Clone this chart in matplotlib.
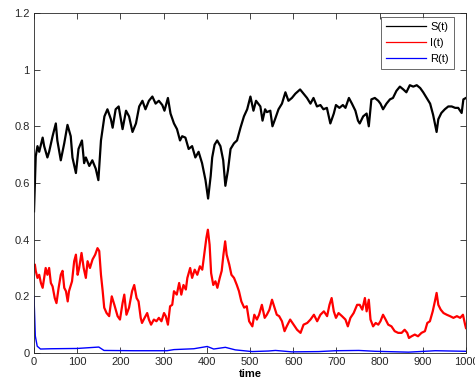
import matplotlib
matplotlib.use('Agg')
import matplotlib.pyplot as plt
from matplotlib.lines import Line2D

plt.rcParams['font.family'] = ['Liberation Sans', 'DejaVu Sans']

# S(t)
s_t = [0, 4, 8, 12, 20, 23.5, 31, 35, 43, 50.5, 54, 62, 70, 77.5, 85, 89, 97, 103, 111, 116,
       120, 128, 135, 143, 149, 155, 163, 170, 178, 182, 189, 196, 201, 205, 213, 220, 228, 236,
       243.5, 251, 258, 266, 274, 281.5, 289, 297, 302, 310, 316, 324, 331, 338, 343, 350.5,
       358, 366, 373.5, 381, 389, 397, 403, 409, 412.5, 418, 424, 431.5, 438, 443, 449, 455,
       463, 470, 478, 486, 493.5, 501, 508, 514, 524, 529, 535, 539, 547, 552, 558, 566, 574,
       582, 589, 597, 605, 616, 624, 632, 640, 647, 655, 663, 670, 678, 686, 694, 699, 707,
       715, 721, 729, 736, 744, 750, 754, 762, 770, 775, 781, 789, 797, 802, 808, 816, 824,
       831, 839, 847, 855, 862, 870, 878, 886, 894, 901, 909, 917, 924, 932, 936, 943, 951,
       959, 967, 975, 982, 990, 994, 1000]
s_v = [0.50, 0.694, 0.73, 0.71, 0.76, 0.73, 0.69, 0.71, 0.765, 0.81, 0.75, 0.68, 0.74, 0.805,
       0.765, 0.69, 0.635, 0.72, 0.75, 0.67, 0.69, 0.66, 0.68, 0.65, 0.61, 0.75, 0.835, 0.86,
       0.825, 0.795, 0.86, 0.87, 0.825, 0.79, 0.855, 0.835, 0.78, 0.81, 0.87, 0.89, 0.86, 0.89,
       0.905, 0.88, 0.89, 0.875, 0.855, 0.90, 0.845, 0.81, 0.79, 0.75, 0.765, 0.76, 0.72, 0.73,
       0.69, 0.71, 0.67, 0.61, 0.545, 0.625, 0.69, 0.735, 0.75, 0.73, 0.68, 0.59, 0.645, 0.72,
       0.74, 0.75, 0.795, 0.835, 0.86, 0.905, 0.855, 0.89, 0.87, 0.82, 0.86, 0.85, 0.855, 0.80,
       0.825, 0.86, 0.88, 0.92, 0.89, 0.90, 0.915, 0.93, 0.915, 0.90, 0.88, 0.90, 0.87, 0.875,
       0.86, 0.865, 0.81, 0.845, 0.875, 0.865, 0.875, 0.865, 0.90, 0.88, 0.855, 0.82, 0.81,
       0.835, 0.845, 0.80, 0.895, 0.90, 0.89, 0.88, 0.86, 0.88, 0.895, 0.90, 0.925, 0.94, 0.93,
       0.92, 0.945, 0.94, 0.945, 0.935, 0.92, 0.90, 0.88, 0.84, 0.78, 0.825, 0.847, 0.86, 0.87,
       0.87, 0.865, 0.865, 0.847, 0.895, 0.90]

# I(t)
i_t = [0, 2, 4, 8, 12, 16, 20, 23.5, 27, 31, 35, 39, 43, 48, 52, 57, 62, 66, 70, 74, 78, 81,
       88, 93, 97, 101, 104.5, 110, 115, 120, 124, 129.5, 135.5, 141.6, 147, 151, 155, 159,
       162.5, 168, 174, 180, 186, 193.5, 199, 205, 209, 214, 220, 227, 232, 237.5, 242, 247,
       250, 256, 262, 266, 271, 277.5, 283.5, 289, 295, 301, 305, 310, 315, 320, 324, 330.5,
       336, 341, 346, 351.5, 355, 361.5, 366, 372, 378, 384, 389.5, 393.5, 399, 402.5, 406.5,
       410, 415, 420, 424.5, 430, 434.5, 438.5, 442.5, 446, 452, 457, 463, 469.5, 474.5, 480,
       486.5, 492.5, 498, 505.5, 510, 516, 521, 527.5, 534, 539, 545, 551, 557, 562, 567.5,
       574, 580, 585, 593, 601, 609, 617, 624, 632.5, 640, 648, 655.5, 663, 671, 678.5, 684,
       689, 694, 699, 705, 713, 721, 726.5, 732.5, 740, 748, 754, 760, 766, 770, 775, 779, 785,
       791, 797, 802, 808, 814, 820, 827.5, 835, 843, 851, 858, 864, 868, 874, 881.5, 889, 897,
       905, 910.5, 916.5, 923, 928, 932, 936, 941.5, 948, 955.5, 963, 971, 979, 986.5, 993,
       998, 1000]
i_v = [0.31, 0.312, 0.29, 0.265, 0.276, 0.247, 0.23, 0.265, 0.30, 0.276, 0.30, 0.247, 0.235,
       0.194, 0.176, 0.23, 0.276, 0.29, 0.23, 0.218, 0.182, 0.218, 0.253, 0.324, 0.347, 0.276,
       0.30, 0.353, 0.30, 0.265, 0.324, 0.30, 0.33, 0.347, 0.37, 0.36, 0.276, 0.218, 0.16,
       0.141, 0.13, 0.20, 0.17, 0.13, 0.118, 0.176, 0.206, 0.135, 0.16, 0.218, 0.24, 0.194,
       0.182, 0.124, 0.106, 0.124, 0.141, 0.118, 0.10, 0.118, 0.112, 0.124, 0.112, 0.141, 0.13,
       0.10, 0.165, 0.17, 0.218, 0.206, 0.247, 0.206, 0.24, 0.224, 0.265, 0.30, 0.265, 0.294,
       0.276, 0.306, 0.294, 0.341, 0.406, 0.435, 0.382, 0.282, 0.24, 0.253, 0.23, 0.265, 0.29,
       0.347, 0.394, 0.347, 0.312, 0.276, 0.265, 0.24, 0.218, 0.182, 0.16, 0.165, 0.112, 0.094,
       0.135, 0.118, 0.135, 0.17, 0.124, 0.135, 0.153, 0.188, 0.159, 0.135, 0.13, 0.112, 0.077,
       0.094, 0.118, 0.10, 0.082, 0.071, 0.10, 0.106, 0.118, 0.135, 0.112, 0.135, 0.147, 0.13,
       0.17, 0.194, 0.147, 0.124, 0.141, 0.13, 0.118, 0.094, 0.124, 0.141, 0.17, 0.17, 0.153,
       0.194, 0.147, 0.188, 0.118, 0.094, 0.106, 0.10, 0.112, 0.135, 0.118, 0.10, 0.094, 0.077,
       0.071, 0.071, 0.082, 0.071, 0.053, 0.059, 0.065, 0.059, 0.071, 0.077, 0.106, 0.112,
       0.147, 0.182, 0.212, 0.17, 0.153, 0.141, 0.135, 0.13, 0.124, 0.13, 0.124, 0.135, 0.10,
       0.088]

# R(t)
r_t = [0, 3, 7.4, 15, 40, 100, 150, 162, 230, 308, 324, 370, 401, 416, 443, 466, 505, 543,
       559, 597, 659, 698, 752, 790, 867, 929, 1000]
r_v = [0.20, 0.06, 0.024, 0.014, 0.015, 0.016, 0.021, 0.009, 0.008, 0.008, 0.012, 0.015,
       0.023, 0.014, 0.02, 0.011, 0.005, 0.007, 0.009, 0.004, 0.005, 0.008, 0.009, 0.006,
       0.003, 0.008, 0.006]

fig = plt.figure(figsize=(4.75, 3.92), dpi=100)
ax = fig.add_axes([0.0716, 0.0995, 0.9094, 0.8675])

ax.plot(s_t, s_v, color='black', lw=1.6)
ax.plot(i_t, i_v, color='red', lw=1.6)
ax.plot(r_t, r_v, color='blue', lw=1.0)

ax.set_xlim(0, 1000)
ax.set_ylim(0, 1.2)
ax.set_xticks(range(0, 1001, 100))
ax.set_yticks([0, 0.2, 0.4, 0.6, 0.8, 1.0, 1.2])
ax.set_yticklabels(['0', '0.2', '0.4', '0.6', '0.8', '1', '1.2'])
ax.tick_params(direction='in', top=True, right=True, labelsize=8, colors='#262626',
               length=4, width=0.6, pad=3)
for sp in ax.spines.values():
    sp.set_color('#262626')
    sp.set_linewidth(0.6)
ax.set_xlabel('time', fontsize=8, fontweight='bold', labelpad=1)

handles = [Line2D([], [], color='black', lw=0.9),
           Line2D([], [], color='red', lw=0.9),
           Line2D([], [], color='blue', lw=0.9)]
leg = ax.legend(handles, ['S(t)', 'I(t)', 'R(t)'], loc='upper right',
                bbox_to_anchor=(0.972, 0.989), borderaxespad=0, fontsize=8,
                fancybox=False, edgecolor='#262626', handlelength=3.6, handletextpad=0.35,
                borderpad=0.45, labelspacing=0.55)
leg.get_frame().set_linewidth(0.6)

fig.savefig('out.png', dpi=100)
